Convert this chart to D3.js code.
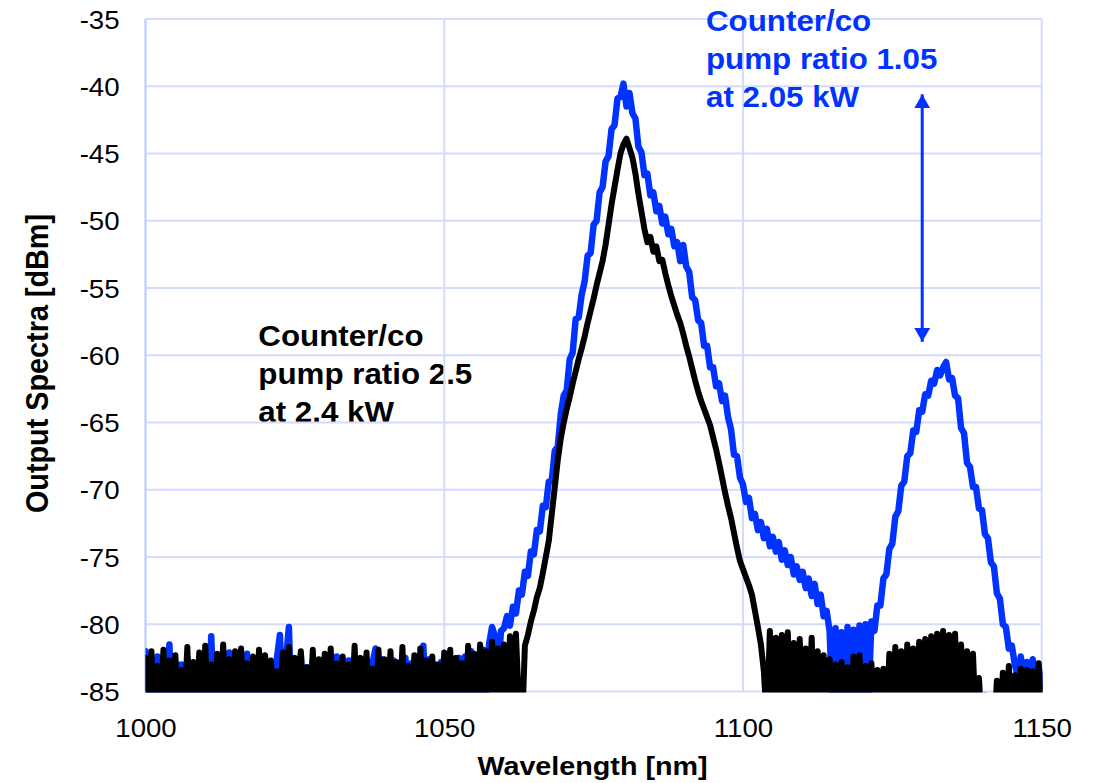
<!DOCTYPE html>
<html>
<head>
<meta charset="utf-8">
<script src="https://cdn.jsdelivr.net/npm/d3@7"></script>
<style>
  body { margin: 0; background: #fff; }
  svg { display: block; }
  text { font-family: Arial, "Liberation Sans", sans-serif; }
</style>
</head>
<body>
<div id="chart"></div>
<script>
// spectra sampled every 0.5 nm from 1000 nm; noise-floor dips run below the -85 dBm axis
const wlStart = 1000;
const wlStep = 0.5;

// counter/co pump ratio 1.05 at 2.05 kW (blue)
const bluePump105 = [
  -82.0,-86.5,-83.0,-86.9,-82.4,-87.3,-83.2,-86.4,-81.5,-87.1,-82.8,-86.8,-83.0,-87.5,-82.5,-86.2,-83.1,-87.0,-82.6,-86.7,
  -82.7,-87.2,-80.9,-86.5,-82.3,-87.0,-83.0,-86.3,-82.1,-87.6,-82.9,-86.1,-83.3,-87.2,-82.2,-86.6,-82.8,-87.1,-83.0,-86.5,
  -82.4,-87.0,-83.1,-86.4,-82.5,-80.8,-86.9,-82.7,-80.2,-87.3,-82.9,-86.6,-82.3,-87.0,-83.2,-86.2,-82.6,-87.5,-82.9,-86.8,
  -82.5,-86.5,-83.0,-87.1,-82.4,-86.9,-83.1,-86.3,-82.7,-87.4,-82.6,-86.7,-83.2,-87.0,-82.8,-86.4,-82.9,-81.8,-86.8,-82.6,
  -87.0,-82.9,-86.5,-82.7,-87.2,-83.0,-86.6,-82.5,-87.1,-82.9,-86.4,-83.1,-87.3,-81.6,-86.7,-82.6,-87.0,-83.0,-86.4,-82.8,
  -87.2,-82.6,-86.6,-83.0,-87.0,-82.5,-86.3,-82.4,-86.8,-82.0,-86.2,-82.3,-86.9,-81.9,-86.0,-81.5,-80.2,-80.9,-83.5,-80.5,
  -80.3,-79.4,-80.1,-78.7,-79.2,-77.5,-77.8,-76.1,-76.4,-74.6,-74.8,-73.0,-73.1,-71.2,-71.3,-69.4,-69.3,-67.1,-66.8,-64.4,
  -63.0,-62.6,-60.3,-59.8,-57.3,-57.2,-55.5,-54.5,-52.6,-52.4,-50.3,-50.0,-47.9,-47.5,-45.6,-45.2,-43.2,-42.9,-40.9,-40.8,
  -39.8,-41.5,-40.5,-42.0,-42.4,-44.5,-44.9,-46.6,-46.5,-48.1,-47.9,-49.3,-48.9,-50.2,-49.7,-51.0,-50.6,-51.9,-51.6,-53.0,
  -51.8,-53.4,-53.8,-55.7,-55.9,-57.4,-57.6,-59.3,-59.3,-60.9,-60.9,-62.3,-62.1,-63.4,-63.0,-64.6,-65.5,-67.4,-67.5,-69.1,
  -69.6,-70.9,-70.6,-72.1,-71.8,-73.0,-72.4,-73.6,-72.9,-74.2,-73.5,-74.6,-73.9,-75.2,-74.5,-75.6,-75.0,-76.3,-75.7,-76.7,
  -76.1,-77.3,-76.6,-77.9,-77.0,-78.5,-77.8,-79.4,-79.0,-80.5,-86.3,-80.3,-86.8,-80.6,-86.2,-80.2,-86.5,-80.4,-86.1,-80.1,
  -86.4,-80.0,-85.8,-79.8,-80.5,-78.6,-78.6,-76.6,-76.3,-74.4,-74.0,-72.0,-71.6,-69.7,-69.4,-67.5,-67.3,-65.6,-65.7,-64.1,
  -64.2,-62.9,-63.0,-61.9,-62.1,-61.1,-61.5,-60.9,-60.5,-61.8,-61.7,-63.0,-63.2,-65.4,-65.8,-68.0,-68.3,-69.8,-69.8,-71.4,
  -71.5,-73.3,-73.6,-75.4,-75.7,-77.7,-78.1,-80.0,-80.2,-81.8,-81.6,-83.0,-83.8,-82.4,-84.1,-82.8,-83.7,-82.6,-84.0,-83.2,
  -84.6
];

// counter/co pump ratio 2.5 at 2.4 kW (black)
const blackPump25 = [
  -82.5,-86.8,-82.0,-87.5,-83.1,-86.2,-81.9,-87.8,-82.7,-86.9,-82.3,-87.2,-83.4,-86.6,-81.7,-87.9,-82.8,-86.4,-82.1,-87.3,
  -81.6,-86.7,-83.0,-87.6,-82.2,-86.3,-81.5,-87.7,-82.6,-86.1,-82.0,-87.4,-81.8,-86.8,-82.9,-87.1,-82.4,-86.5,-81.9,-87.9,
  -82.3,-86.9,-82.7,-87.2,-83.5,-86.0,-82.1,-87.6,-81.7,-86.6,-82.5,-87.3,-82.0,-86.2,-83.2,-87.8,-81.9,-86.7,-82.6,-87.0,
  -82.2,-86.4,-81.8,-87.5,-82.9,-86.8,-82.4,-87.1,-83.0,-86.3,-81.6,-87.7,-82.5,-86.6,-82.1,-87.2,-83.3,-86.9,-81.9,-87.4,
  -82.6,-86.1,-82.0,-87.8,-82.8,-86.5,-81.7,-87.0,-83.1,-86.7,-82.3,-87.6,-81.8,-86.2,-82.7,-87.3,-82.4,-86.8,-83.0,-87.5,
  -82.1,-86.6,-81.9,-87.2,-82.5,-86.0,-82.9,-87.7,-81.6,-86.4,-82.2,-87.1,-81.5,-86.8,-82.0,-87.4,-81.3,-86.5,-81.8,-87.0,
  -81.5,-86.5,-80.9,-87.2,-80.7,-86.1,-88.0,-81.6,-80.8,-79.8,-79.0,-78.0,-77.3,-76.2,-75.0,-73.8,-71.8,-69.8,-67.8,-66.2,
  -65.0,-64.0,-63.1,-62.1,-61.2,-60.3,-59.5,-58.6,-57.6,-56.7,-55.8,-54.8,-53.9,-53.0,-51.8,-50.3,-48.8,-47.5,-46.2,-45.0,
  -44.3,-43.9,-44.6,-45.3,-46.5,-48.0,-49.3,-50.6,-51.6,-51.2,-52.3,-51.9,-53.0,-52.9,-53.9,-54.8,-55.6,-56.3,-57.0,-57.6,
  -58.4,-59.3,-60.1,-61.0,-61.9,-62.7,-63.4,-64.0,-64.6,-65.2,-66.1,-67.0,-68.0,-69.1,-70.2,-71.2,-72.1,-73.2,-74.3,-75.3,
  -75.9,-76.5,-77.1,-77.8,-79.0,-80.2,-81.5,-83.5,-87.5,-80.5,-86.8,-81.0,-87.6,-80.8,-86.3,-80.6,-87.9,-81.4,-86.6,-81.1,
  -87.3,-81.8,-86.9,-81.0,-87.7,-82.0,-86.7,-82.3,-87.8,-82.6,-87.1,-83.0,-88.0,-82.8,-87.4,-83.2,-87.9,-82.4,-87.0,-82.3,
  -87.7,-83.1,-87.2,-82.9,-88.1,-83.4,-87.5,-83.3,-87.8,-82.2,-87.0,-81.7,-87.6,-82.0,-86.9,-81.5,-87.3,-81.8,-86.6,-81.3,
  -87.1,-81.1,-86.4,-80.9,-86.8,-80.7,-86.2,-80.5,-86.7,-80.8,-86.3,-80.7,-87.0,-81.5,-86.9,-82.0,-87.4,-82.2,-87.8,-84.0,
  -88.2,-85.3,-88.5,-85.6,-88.3,-84.2,-87.9,-83.6,-87.7,-83.1,-87.4,-83.8,-87.9,-83.3,-87.2,-83.4,-88.0,-83.5,-87.6,-82.9,
  -87.3
];

const xTicks = [1000, 1050, 1100, 1150];
const yTicks = [-35, -40, -45, -50, -55, -60, -65, -70, -75, -80, -85];

const blueNote = ['Counter/co', 'pump ratio 1.05', 'at 2.05 kW'];
const blackNote = ['Counter/co', 'pump ratio 2.5', 'at 2.4 kW'];

// double arrow marking the second-order peak
const arrowWl = 1130;
const arrowTop = -40.6;
const arrowBottom = -59.0;

const BLUE = '#0033ff';
const GRID = '#d3dbff';
const STRETCH = 'scale(1.08,1)';

const width = 1104;
const height = 783;

const x = d3.scaleLinear().domain([1000, 1150]).range([145.5, 1041.7]);
const y = d3.scaleLinear().domain([-85, -35]).range([691.5, 19]);

const svg = d3.select('#chart')
  .append('svg')
  .attr('width', width)
  .attr('height', height);

svg.append('rect').attr('width', width).attr('height', height).attr('fill', '#fff');

const defs = svg.append('defs');
defs.append('clipPath').attr('id', 'plot-clip')
  .append('rect')
  .attr('x', x(1000))
  .attr('y', y(-35) - 2)
  .attr('width', x(1150) - x(1000) + 1)
  .attr('height', y(-85) - y(-35) + 3);

['arrow-end', 'arrow-start'].forEach((id, i) => {
  defs.append('marker')
    .attr('id', id)
    .attr('markerUnits', 'userSpaceOnUse')
    .attr('viewBox', '0 0 14 16')
    .attr('refX', i === 0 ? 14 : 0)
    .attr('refY', 8)
    .attr('markerWidth', 14)
    .attr('markerHeight', 16)
    .attr('orient', 'auto')
    .append('path')
    .attr('d', i === 0 ? 'M0,0L14,8L0,16Z' : 'M14,0L0,8L14,16Z')
    .attr('fill', BLUE);
});

// black note sits under the grid (grid lines cross it in the original)
const addNote = (lines, left, top, color) => {
  lines.forEach((t, i) => {
    svg.append('text')
      .attr('transform', `translate(${left},${top + i * 38}) ${STRETCH}`)
      .attr('font-size', 29)
      .attr('font-weight', 'bold')
      .attr('fill', color)
      .text(t);
  });
};
addNote(blackNote, 258.3, 345.7, '#000');

// grid
const grid = svg.append('g');
grid.selectAll('.hgrid')
  .data(yTicks)
  .enter()
  .append('line')
  .attr('x1', x(1000))
  .attr('x2', x(1150))
  .attr('y1', (d) => y(d))
  .attr('y2', (d) => y(d))
  .attr('stroke', GRID)
  .attr('stroke-width', 2);
grid.selectAll('.vgrid')
  .data(xTicks)
  .enter()
  .append('line')
  .attr('x1', (d) => x(d))
  .attr('x2', (d) => x(d))
  .attr('y1', y(-35))
  .attr('y2', y(-85))
  .attr('stroke', (d, i) => (i === 0 ? '#c6d0ff' : GRID))
  .attr('stroke-width', (d, i) => (i === 0 ? 2.5 : 2));

// spectra
const line = d3.line()
  .x((d, i) => x(wlStart + i * wlStep))
  .y((d) => y(d));

const plot = svg.append('g').attr('clip-path', 'url(#plot-clip)');
[[bluePump105, BLUE, 6.5], [blackPump25, '#000', 6]].forEach(([vals, color, w]) => {
  plot.append('path')
    .datum(vals)
    .attr('d', line)
    .attr('fill', 'none')
    .attr('stroke', color)
    .attr('stroke-width', w)
    .attr('stroke-linejoin', 'round')
    .attr('stroke-linecap', 'round');
});

// arrow
svg.append('line')
  .attr('x1', x(arrowWl))
  .attr('x2', x(arrowWl))
  .attr('y1', y(arrowTop))
  .attr('y2', y(arrowBottom))
  .attr('stroke', BLUE)
  .attr('stroke-width', 3)
  .attr('marker-start', 'url(#arrow-start)')
  .attr('marker-end', 'url(#arrow-end)');

addNote(blueNote, 706, 30.7, BLUE);

// axes (plain hyphen minus like the original)
const yAxis = svg.append('g')
  .attr('transform', `translate(${x(1000)},0)`)
  .call(d3.axisLeft(y).tickValues(yTicks).tickSize(0).tickPadding(24).tickFormat((d) => String(d)));
const xAxis = svg.append('g')
  .attr('transform', `translate(0,${y(-85)})`)
  .call(d3.axisBottom(x).tickValues(xTicks).tickSize(0).tickPadding(27).tickFormat((d) => String(d)));

[yAxis, xAxis].forEach((ax) => {
  ax.select('.domain').remove();
  ax.selectAll('text')
    .attr('font-size', 25.6)
    .attr('font-family', 'Arial, "Liberation Sans", sans-serif')
    .attr('fill', '#000')
    .attr('transform', STRETCH);
});
yAxis.selectAll('text').attr('dy', '0.36em');

// axis titles
svg.append('text')
  .attr('transform', `translate(592.5,775) ${STRETCH}`)
  .attr('text-anchor', 'middle')
  .attr('font-size', 26.6)
  .attr('font-weight', 'bold')
  .text('Wavelength [nm]');

svg.append('text')
  .attr('transform', `translate(48,363.5) ${STRETCH} rotate(-90)`)
  .attr('text-anchor', 'middle')
  .attr('font-size', 28.8)
  .attr('font-weight', 'bold')
  .text('Output Spectra [dBm]');
</script>
</body>
</html>
